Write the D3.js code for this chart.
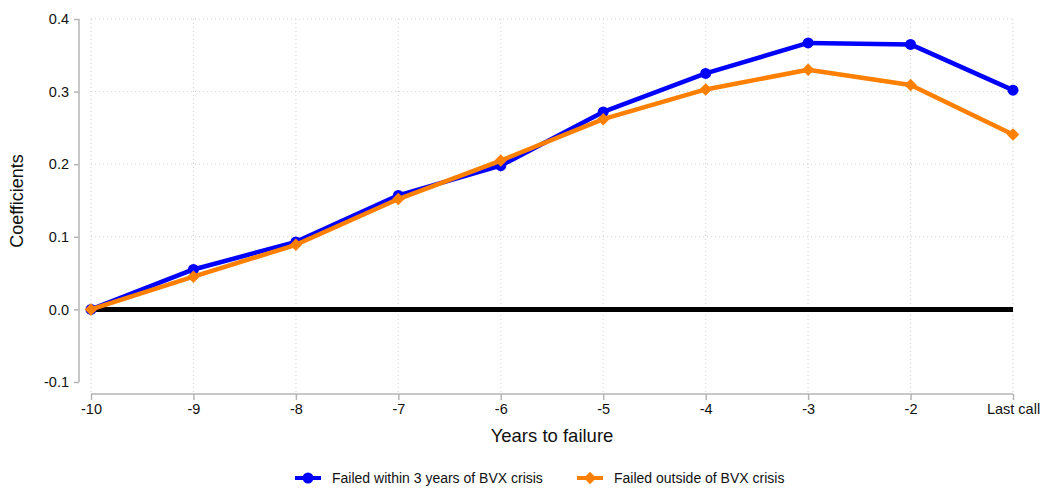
<!DOCTYPE html>
<html><head><meta charset="utf-8">
<script src="https://cdn.jsdelivr.net/npm/d3@7"></script>
<style>body{margin:0;background:#fff;}svg{display:block;font-family:"Liberation Sans",Arial,sans-serif;}</style>
</head><body>
<svg id="c" width="1043" height="490"></svg>
<script>
const categories = ["-10","-9","-8","-7","-6","-5","-4","-3","-2","Last call"];
const seriesNames = ["Failed within 3 years of BVX crisis","Failed outside of BVX crisis"];
const bvxValues = [0, 0.055, 0.093, 0.157, 0.198, 0.272, 0.325, 0.367, 0.365, 0.302];
const outsideValues = [0, 0.045, 0.089, 0.152, 0.205, 0.262, 0.303, 0.330, 0.309, 0.241];
const yTicks = [-0.1, 0, 0.1, 0.2, 0.3, 0.4];

const svg = d3.select("#c");
const x = d3.scalePoint().domain(categories).range([91, 1013]);
const y = d3.scaleLinear().domain([-0.1, 0.4]).range([382, 19]);
const gridColor = "#d0d0d0", axisColor = "#b4b4b4";
const ff = "'Liberation Sans', Arial, sans-serif";

// grid
svg.append("g").selectAll("line").data(yTicks.filter(d=>d!==-0.1)).join("line")
  .attr("x1", 91).attr("x2", 1013).attr("y1", d=>y(d)).attr("y2", d=>y(d))
  .attr("stroke", gridColor).attr("stroke-width", 1).attr("stroke-dasharray", "1,3");
svg.append("g").selectAll("line").data(categories).join("line")
  .attr("x1", d=>x(d)).attr("x2", d=>x(d)).attr("y1", 19).attr("y2", 394)
  .attr("stroke", gridColor).attr("stroke-width", 1).attr("stroke-dasharray", "1,3");

// y axis
const ya = svg.append("g").attr("transform", "translate(79,0)")
  .call(d3.axisLeft(y).tickValues(yTicks).tickFormat(d => d.toFixed(1)).tickSize(5).tickPadding(5));
ya.select(".domain").attr("stroke", axisColor).attr("stroke-width", 1.5).attr("d", `M0,${y(-0.1)}V${y(0.4)}`);
ya.selectAll(".tick line").attr("stroke", axisColor).attr("stroke-width", 1.5);
ya.selectAll("text").attr("font-size", 14.5).attr("fill", "#111").attr("font-family", ff);

// x axis
const xa = svg.append("g").attr("transform", "translate(0,394)")
  .call(d3.axisBottom(x).tickSize(6).tickPadding(4));
xa.select(".domain").attr("stroke", axisColor).attr("stroke-width", 1.5).attr("d", `M${x(categories[0])},0H${x(categories[9])}`);
xa.selectAll(".tick line").attr("stroke", axisColor).attr("stroke-width", 1.5);
xa.selectAll("text").attr("font-size", 14.5).attr("fill", "#111").attr("font-family", ff);

// axis titles
svg.append("text").attr("transform", "translate(23,201) rotate(-90)").attr("text-anchor", "middle")
  .attr("font-family", ff).attr("font-size", 18).attr("fill", "#111").text("Coefficients");
svg.append("text").attr("x", 552).attr("y", 442).attr("text-anchor", "middle")
  .attr("font-family", ff).attr("font-size", 18.5).attr("fill", "#111").text("Years to failure");

// zero line
svg.append("line").attr("x1", x(categories[0])).attr("x2", x(categories[9]))
  .attr("y1", y(0)).attr("y2", y(0)).attr("stroke", "#000").attr("stroke-width", 5);

const line = d3.line().x((d,i)=>x(categories[i])).y(d=>y(d));
const blue = "#0000ff", orange = "#ff8000";
svg.append("path").datum(bvxValues).attr("d", line).attr("fill","none").attr("stroke", blue).attr("stroke-width", 4.5).attr("stroke-linejoin","round");
svg.append("g").selectAll("circle").data(bvxValues).join("circle")
  .attr("cx", (d,i)=>x(categories[i])).attr("cy", d=>y(d)).attr("r", 5.5).attr("fill", blue);
svg.append("path").datum(outsideValues).attr("d", line).attr("fill","none").attr("stroke", orange).attr("stroke-width", 4.5).attr("stroke-linejoin","round");
const diamond = d3.symbol().type(d3.symbolDiamond2).size(100);
svg.append("g").selectAll("path").data(outsideValues).join("path")
  .attr("transform", (d,i)=>`translate(${x(categories[i])},${y(d)})`).attr("d", diamond).attr("fill", orange);

// legend
const legend = [{name: seriesNames[0], color: blue, sym: "circle", x: 295}, {name: seriesNames[1], color: orange, sym: "diamond", x: 577}];
const lg = svg.append("g").selectAll("g").data(legend).join("g").attr("transform", d=>`translate(${d.x},478)`);
lg.append("line").attr("x1", 0).attr("x2", 26).attr("stroke", d=>d.color).attr("stroke-width", 4);
lg.append("path").attr("transform","translate(13,0)")
  .attr("d", d=> d.sym==="circle" ? d3.symbol().type(d3.symbolCircle).size(95)() : d3.symbol().type(d3.symbolDiamond2).size(100)())
  .attr("fill", d=>d.color);
lg.append("text").attr("x", 37).attr("y", 5).attr("font-family", ff).attr("font-size", 14).attr("fill", "#111").text(d=>d.name);
</script>
</body></html>
